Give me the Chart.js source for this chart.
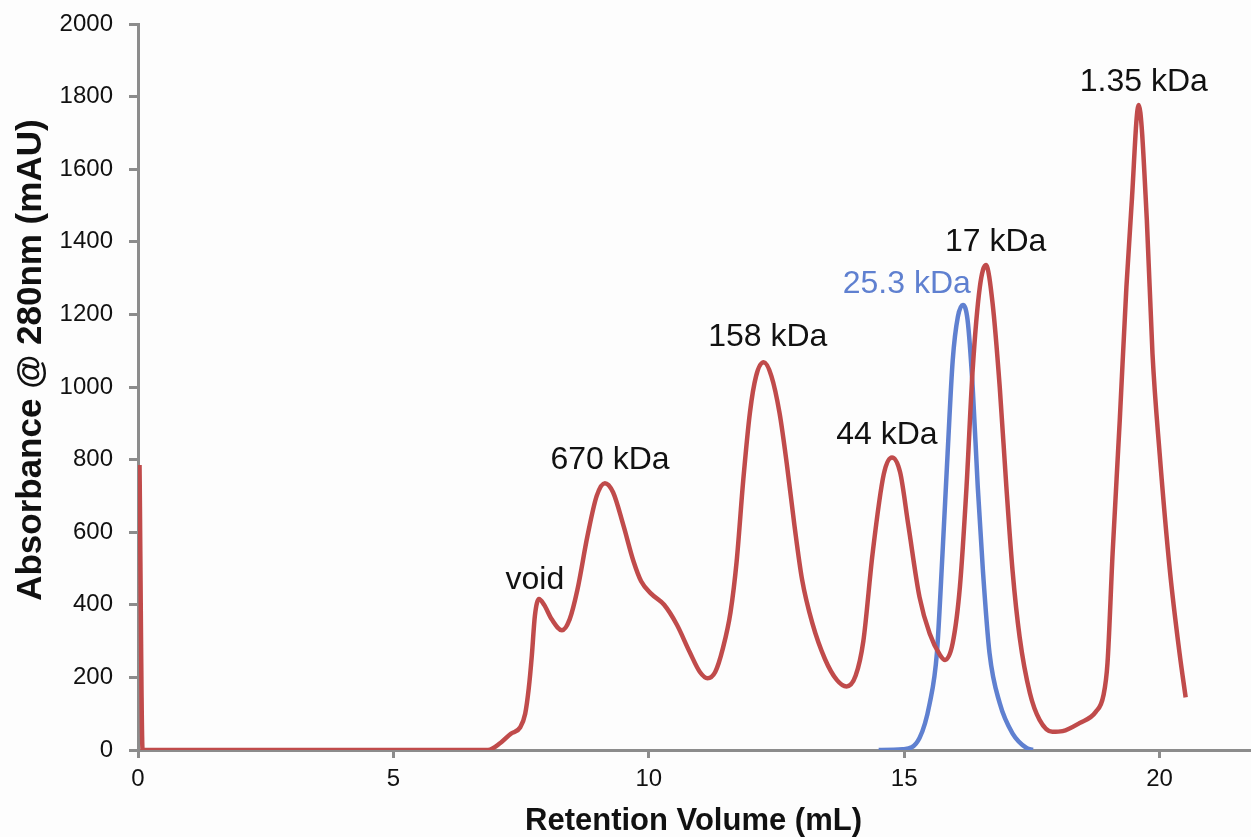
<!DOCTYPE html>
<html>
<head>
<meta charset="utf-8">
<script src="https://cdn.jsdelivr.net/npm/chart.js@4.4.1/dist/chart.umd.min.js"></script>
<style>
  html, body { margin: 0; padding: 0; background: #fdfdfd; }
  #wrap { width: 1251px; height: 837px; position: relative; }
</style>
</head>
<body>
<div id="wrap"><canvas id="c"></canvas></div>
<script>
// ---- data ----
const redX = [0.03, 0.09, 3.0, 6.85, 7.1, 7.3, 7.48, 7.58, 7.65, 7.71, 7.77, 7.85, 7.95, 8.1, 8.3, 8.45, 8.6, 8.8, 8.98, 9.14, 9.3, 9.5, 9.7, 9.85, 10.05, 10.3, 10.55, 10.8, 11.0, 11.15, 11.3, 11.45, 11.6, 11.72, 11.85, 11.98, 12.1, 12.25, 12.4, 12.56, 12.7, 12.85, 13.0, 13.2, 13.45, 13.68, 13.87, 14.05, 14.2, 14.38, 14.6, 14.76, 14.92, 15.08, 15.3, 15.5, 15.7, 15.8, 15.95, 16.09, 16.22, 16.34, 16.48, 16.6, 16.73, 16.87, 17.0, 17.12, 17.26, 17.46, 17.65, 17.9, 18.1, 18.43, 18.75, 18.9, 18.98, 19.08, 19.22, 19.35, 19.45, 19.59, 19.75, 19.86, 20.0, 20.2, 20.39, 20.51];
const redY = [785, 0, 0, 0, 20, 45, 62, 100, 170, 260, 370, 416, 400, 360, 330, 360, 440, 590, 700, 735, 710, 620, 520, 465, 430, 400, 345, 270, 215, 198, 215, 280, 380, 520, 745, 930, 1030, 1068, 1030, 928, 790, 620, 470, 350, 250, 193, 175, 205, 300, 540, 760, 806, 765, 620, 421, 320, 262, 248, 295, 449, 725, 1047, 1275, 1336, 1231, 1000, 725, 496, 311, 157, 83, 50, 52, 74, 105, 150, 240, 542, 909, 1275, 1500, 1777, 1460, 1093, 818, 496, 267, 145];

const blueX = [14.5, 14.97, 15.3, 15.5, 15.64, 15.75, 15.85, 15.95, 16.05, 16.15, 16.24, 16.34, 16.44, 16.54, 16.67, 16.87, 17.12, 17.4, 17.52];
const blueY = [0, 2, 33, 129, 267, 542, 818, 1074, 1193, 1226, 1185, 1000, 725, 496, 267, 129, 46, 5, 0];

const peakLabels = ["void", "670 kDa", "158 kDa", "44 kDa", "25.3 kDa", "17 kDa", "1.35 kDa"];
const peakLabelX = [7.77, 9.24, 12.33, 14.66, 15.05, 16.79, 19.69];
const peakLabelY = [468, 799, 1138, 866, 1284, 1399, 1840];
const peakLabelSeries = ["red", "red", "red", "red", "blue", "red", "red"];

const xTicks = [0, 5, 10, 15, 20];
const yTicks = [0, 200, 400, 600, 800, 1000, 1200, 1400, 1600, 1800, 2000];

const xTitle = "Retention Volume (mL)";
const yTitle = "Absorbance @ 280nm (mAU)";

// ---- styles ----
const RED = "#c04b4b";
const BLUE = "#5f80d0";
const AXIS = "#8c8c8c";
const FONT = "'Liberation Sans', Arial, sans-serif";

const toPts = (xs, ys) => xs.map((x, i) => ({ x: x, y: ys[i] }));

const labelPlugin = {
  id: 'peakLabels',
  afterDatasetsDraw(chart) {
    const ctx = chart.ctx;
    const sx = chart.scales.x, sy = chart.scales.y;
    ctx.save();
    ctx.font = "32px " + FONT;
    ctx.textAlign = "center";
    ctx.textBaseline = "middle";
    peakLabels.forEach((t, i) => {
      ctx.fillStyle = peakLabelSeries[i] === "blue" ? BLUE : "#111111";
      ctx.fillText(t, sx.getPixelForValue(peakLabelX[i]), sy.getPixelForValue(peakLabelY[i]));
    });
    // y axis title
    const ca = chart.chartArea;
    ctx.font = "bold 35px " + FONT;
    ctx.fillStyle = "#111111";
    ctx.translate(31, ca.top + (ca.bottom - ca.top) * 0.463);
    ctx.rotate(-Math.PI / 2);
    ctx.fillText(yTitle, 0, 0);
    ctx.restore();
  }
};

new Chart(document.getElementById('c'), {
  type: 'line',
  data: {
    datasets: [
      { label: 'Standards', data: toPts(redX, redY), borderColor: RED, borderWidth: 4.5, pointRadius: 0, cubicInterpolationMode: 'monotone', fill: false, order: 0 },
      { label: 'Sample', data: toPts(blueX, blueY), borderColor: BLUE, borderWidth: 4.5, pointRadius: 0, cubicInterpolationMode: 'monotone', fill: false, order: 1 }
    ]
  },
  options: {
    responsive: true,
    maintainAspectRatio: false,
    animation: false,
    layout: { padding: { top: 24, right: 2, left: 0, bottom: 0 } },
    plugins: { legend: { display: false }, tooltip: { enabled: false } },
    scales: {
      x: {
        type: 'linear', min: 0, max: 21.75,
        afterBuildTicks: s => { s.ticks = xTicks.map(v => ({ value: v })); },
        afterFit: s => { s.height = 87; s.paddingLeft = 0; s.paddingRight = 0; },
        grid: { drawOnChartArea: false, drawTicks: true, tickLength: 8, color: AXIS, lineWidth: 3 },
        border: { color: AXIS, width: 3 },
        ticks: { font: { size: 24, family: FONT }, color: '#111', padding: 7, maxRotation: 0, callback: v => String(v) },
        title: { display: true, text: xTitle, font: { size: 31, weight: 'bold', family: FONT, lineHeight: 1.0 }, color: '#111', padding: { top: 0, bottom: 0 } }
      },
      y: {
        type: 'linear', min: 0, max: 2000,
        afterBuildTicks: s => { s.ticks = yTicks.map(v => ({ value: v })); },
        afterFit: s => { s.width = 138; s.paddingTop = 0; s.paddingBottom = 0; },
        grid: { drawOnChartArea: false, drawTicks: true, tickLength: 9, color: AXIS, lineWidth: 3 },
        border: { color: AXIS, width: 3 },
        ticks: { font: { size: 24, family: FONT }, color: '#111', padding: 16, callback: v => String(v) }
      }
    }
  },
  plugins: [labelPlugin]
});
</script>
</body>
</html>
